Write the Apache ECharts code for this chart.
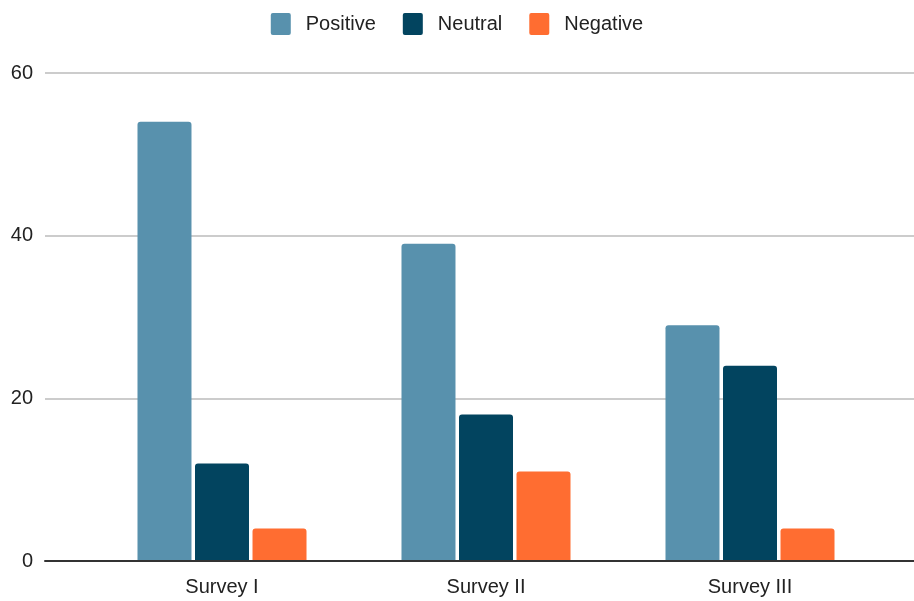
<!DOCTYPE html>
<html>
<head>
<meta charset="utf-8">
<script src="https://cdn.jsdelivr.net/npm/echarts@6/dist/echarts.min.js"></script>
<style>
  html, body { margin: 0; padding: 0; background: #ffffff; }
  #chart { width: 914px; height: 601px; }
</style>
</head>
<body>
<div id="chart"></div>
<script>
// Survey response counts by sentiment
const categories = ['Survey I', 'Survey II', 'Survey III'];
const positive = [54, 39, 29];
const neutral = [12, 18, 24];
const negative = [4, 11, 4];
const seriesNames = ['Positive', 'Neutral', 'Negative'];
const yTicks = { min: 0, max: 60, interval: 20 };

const colors = ['#5891ad', '#02445f', '#ff6d31'];
const fontFamily = '"Liberation Sans", Arial, sans-serif';
const fontSize = 20;

// square legend swatch with slightly rounded corners
const swatch = 'path://M2,0 H18 Q20,0 20,2 V20 Q20,22 18,22 H2 Q0,22 0,20 V2 Q0,0 2,0 Z';

const chart = echarts.init(document.getElementById('chart'));

const barCommon = {
  type: 'bar',
  xAxisIndex: 1,
  yAxisIndex: 1,
  barWidth: 54,
  barGap: '6.5%',
  itemStyle: { borderRadius: [3, 3, 0, 0] }
};

chart.setOption({
  animation: false,
  color: colors,
  textStyle: { fontFamily: fontFamily },
  legend: {
    top: 8,
    left: 'center',
    itemWidth: 20,
    itemHeight: 23,
    itemGap: 27,
    icon: swatch,
    data: seriesNames,
    textStyle: { fontSize: fontSize, color: '#222222', fontFamily: fontFamily, padding: [0, 0, 0, 10] }
  },
  grid: [
    // full-width frame: gridlines, y labels and baseline
    { left: 45, right: 0, top: 73, bottom: 40 },
    // inner band holding the bar groups
    { left: 90, right: 32, top: 73, bottom: 40 }
  ],
  xAxis: [
    {
      gridIndex: 0,
      type: 'category',
      data: categories,
      axisLine: { show: true, lineStyle: { color: '#333333', width: 2 } },
      axisTick: { show: false },
      axisLabel: { show: false },
      splitLine: { show: false },
      z: 5
    },
    {
      gridIndex: 1,
      type: 'category',
      data: categories,
      axisLine: { show: false },
      axisTick: { show: false },
      axisLabel: { fontSize: fontSize, color: '#222222', margin: 16, fontFamily: fontFamily }
    }
  ],
  yAxis: [
    {
      gridIndex: 0,
      type: 'value',
      min: yTicks.min,
      max: yTicks.max,
      interval: yTicks.interval,
      axisLine: { show: false },
      axisTick: { show: false },
      axisLabel: { fontSize: fontSize, color: '#222222', margin: 12, fontFamily: fontFamily },
      splitLine: { lineStyle: { color: '#cccccc', width: 2 } }
    },
    {
      gridIndex: 1,
      type: 'value',
      min: yTicks.min,
      max: yTicks.max,
      interval: yTicks.interval,
      show: false,
      splitLine: { show: false }
    }
  ],
  series: [
    Object.assign({ name: seriesNames[0], data: positive }, barCommon),
    Object.assign({ name: seriesNames[1], data: neutral }, barCommon),
    Object.assign({ name: seriesNames[2], data: negative }, barCommon)
  ]
});
</script>
</body>
</html>
